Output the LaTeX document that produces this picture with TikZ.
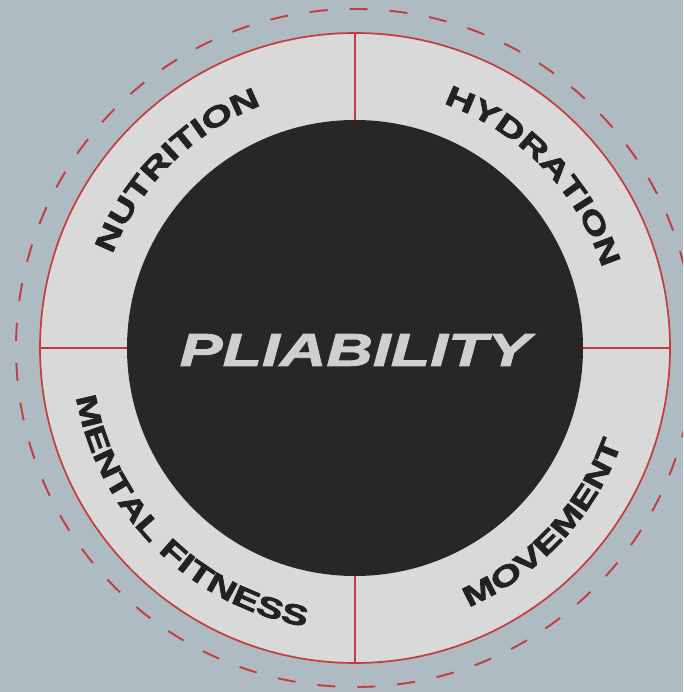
\documentclass[tikz,border=0pt]{standalone}
\usepackage{fontspec}
\newfontfamily\ringfont{Liberation Sans Bold}[FakeStretch=1.4, FakeBold=2.5]
\newfontfamily\corefont{Liberation Sans Bold Italic}[FakeStretch=1.4, FakeBold=2]
\usetikzlibrary{decorations.text}

\definecolor{backgray}{HTML}{AEBBC3}
\definecolor{ringgray}{HTML}{D9D9D9}
\definecolor{coredark}{HTML}{272727}
\definecolor{linered}{HTML}{C43C3C}
\definecolor{ink}{HTML}{222222}
\definecolor{corelight}{HTML}{CFCFCF}

\begin{document}
\begin{tikzpicture}[
x=1pt, y=1pt,
divider/.style = {draw=linered, line width=1.8pt},
ring label/.style = {decorate, decoration={text along path, text align=center,
  text={|\ringfont\fontsize{28.5}{28.5}\selectfont\color{ink}|#1}}},
]

% page and background
\fill[backgray] (-355,-344) rectangle (328,348);
\useasboundingbox (-355,-344) rectangle (328,348);
\clip (-355,-344) rectangle (328,348);

\coordinate (O) at (0,0);

% dashed outer ring
\draw[linered, line width=1.9pt, dash pattern=on 18pt off 22pt] (O) circle[radius=339];

% light ring with red border
\fill[ringgray] (O) circle[radius=315];
\draw[linered, line width=1.7pt] (O) circle[radius=315];

% dividers
\coordinate (N) at (90:315);
\coordinate (S) at (270:315);
\coordinate (W) at (180:315);
\coordinate (E) at (0:315);
\draw[divider] (N) -- (S);
\draw[divider] (W) -- (E);

% core
\fill[coredark] (O) circle[radius=228];
\node (core) at (0,-2) {\corefont\fontsize{46}{46}\selectfont\color{corelight}PLIABILITY};

% ring labels, top ones clockwise, bottom ones counter-clockwise
\path[ring label=NUTRITION] (195:260) arc[start angle=195, end angle=75, radius=260];
\path[ring label=HYDRATION] (104:260) arc[start angle=104, end angle=-16, radius=260];
\path[ring label=MENTAL FITNESS] (165:283) arc[start angle=165, end angle=285, radius=283];
\path[ring label=MOVEMENT] (257:283) arc[start angle=257, end angle=377, radius=283];

\end{tikzpicture}
\end{document}
